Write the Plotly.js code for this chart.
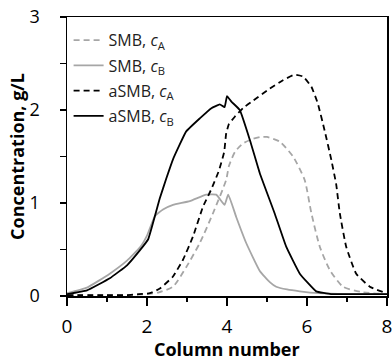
<!DOCTYPE html>
<html>
<head>
<meta charset="utf-8">
<script src="https://cdn.plot.ly/plotly-3.0.1.min.js"></script>
<style>html,body{margin:0;padding:0;background:#fff;}#chart{width:392px;height:361px;}</style>
</head>
<body>
<div id="chart"></div>
<script>
// SMB, cA (gray dashed)
const smbA_x = [0, 1, 1.5, 2, 2.3, 2.65, 2.98, 3.32, 3.65, 3.98, 4.05, 4.2, 4.4, 4.65, 4.85, 5.0, 5.32, 5.65, 5.94, 6.11, 6.32, 6.57, 6.9, 7.4, 8];
const smbA_y = [0.01, 0.01, 0.01, 0.02, 0.04, 0.10, 0.31, 0.57, 0.89, 1.25, 1.40, 1.55, 1.64, 1.69, 1.71, 1.71, 1.66, 1.50, 1.25, 0.89, 0.53, 0.28, 0.10, 0.04, 0.02];
// SMB, cB (gray solid)
const smbB_x = [0, 0.5, 1.07, 1.5, 1.82, 2.0, 2.2, 2.4, 2.65, 3.07, 3.48, 3.73, 3.94, 4.03, 4.23, 4.48, 4.82, 5.07, 5.23, 5.5, 5.82, 6.3, 7, 8];
const smbB_y = [0.03, 0.09, 0.24, 0.38, 0.52, 0.65, 0.86, 0.93, 0.98, 1.02, 1.09, 1.09, 0.98, 1.09, 0.85, 0.57, 0.27, 0.15, 0.10, 0.07, 0.05, 0.03, 0.02, 0.02];
// aSMB, cA (black dashed)
const asmbA_x = [0, 1, 1.5, 1.8, 2.07, 2.32, 2.65, 2.9, 3.15, 3.4, 3.61, 3.8, 3.93, 3.98, 4.05, 4.2, 4.4, 4.65, 5.07, 5.4, 5.69, 5.9, 6.11, 6.27, 6.44, 6.61, 6.73, 6.82, 6.98, 7.23, 7.57, 7.98];
const asmbA_y = [0.01, 0.01, 0.01, 0.02, 0.03, 0.08, 0.21, 0.39, 0.64, 0.96, 1.15, 1.35, 1.55, 1.75, 1.85, 1.93, 2.02, 2.10, 2.23, 2.32, 2.38, 2.36, 2.25, 2.07, 1.78, 1.46, 1.20, 0.89, 0.53, 0.24, 0.10, 0.03];
// aSMB, cB (black solid)
const asmbB_x = [0, 0.5, 1.07, 1.5, 1.82, 2.03, 2.32, 2.48, 2.65, 2.98, 3.32, 3.61, 3.82, 3.94, 4.0, 4.11, 4.32, 4.57, 4.82, 5.19, 5.48, 5.82, 6.23, 6.6, 7, 8];
const asmbB_y = [0.02, 0.06, 0.19, 0.33, 0.49, 0.61, 1.05, 1.26, 1.47, 1.77, 1.91, 2.02, 2.06, 2.03, 2.15, 2.09, 2.00, 1.68, 1.32, 0.89, 0.53, 0.24, 0.05, 0.02, 0.02, 0.02];

const seriesNames = ['SMB, <i>c</i><sub>A</sub>', 'SMB, <i>c</i><sub>B</sub>', 'aSMB, <i>c</i><sub>A</sub>', 'aSMB, <i>c</i><sub>B</sub>'];
const xTickVals = [0, 2, 4, 6, 8];
const xTickText = ['0', '2', '4', '6', '8'];
const yTickVals = [0, 1, 2, 3];
const yTickText = ['0', '1', '2', '3'];
const xTitle = '<b>Column number</b>';
const yTitle = '<b>Concentration, g/L</b>';

const gray = '#a6a6a6';
const traces = [
  {x: smbA_x, y: smbA_y, name: seriesNames[0], legendgroup: 'g1', mode: 'lines', line: {color: gray, width: 1.8, dash: '6px,4px', shape: 'spline', smoothing: 0.6}},
  {x: smbB_x, y: smbB_y, name: seriesNames[1], legendgroup: 'g2', mode: 'lines', line: {color: gray, width: 1.8, shape: 'spline', smoothing: 0.4}},
  {x: asmbA_x, y: asmbA_y, name: seriesNames[2], legendgroup: 'g3', mode: 'lines', line: {color: '#000', width: 1.8, dash: '6px,4px', shape: 'spline', smoothing: 0.4}},
  {x: asmbB_x, y: asmbB_y, name: seriesNames[3], legendgroup: 'g4', mode: 'lines', line: {color: '#000', width: 1.8, shape: 'spline', smoothing: 0.3}}
];

const layout = {
  width: 392, height: 361,
  margin: {l: 67, r: 5, t: 17, b: 65},
  paper_bgcolor: '#fff', plot_bgcolor: '#fff',
  font: {family: 'Open Sans, sans-serif', color: '#000'},
  showlegend: true,
  legend: {x: 0.005, y: 0.978, xanchor: 'left', yanchor: 'top', bgcolor: 'rgba(0,0,0,0)', font: {size: 16, color: '#222'}, itemwidth: 30, tracegroupgap: 1.5},
  xaxis: {
    range: [0, 8], tickvals: xTickVals, ticktext: xTickText,
    ticks: 'outside', ticklen: 8, tickwidth: 1.3, tickcolor: '#000',
    minor: {dtick: 1, ticks: 'outside', ticklen: 4, tickwidth: 1.3, tickcolor: '#000', showgrid: false},
    showline: true, linecolor: '#000', linewidth: 1.5, mirror: true,
    showgrid: false, zeroline: false, ticklabeloverflow: 'allow',
    tickfont: {size: 19, color: '#000'}, ticklabelstandoff: 5
  },
  yaxis: {
    range: [0, 3], tickvals: yTickVals, ticktext: yTickText,
    ticks: 'outside', ticklen: 6, tickwidth: 1.3, tickcolor: '#000',
    minor: {dtick: 0.5, ticks: 'outside', ticklen: 6, tickwidth: 1.3, tickcolor: '#000', showgrid: false},
    showline: true, linecolor: '#000', linewidth: 1.5, mirror: true,
    showgrid: false, zeroline: false, ticklabeloverflow: 'allow',
    tickfont: {size: 18, color: '#000'}, ticklabelstandoff: 16,
    title: {text: yTitle, font: {size: 18, color: '#000'}, standoff: 0}
  },
  annotations: [
    {text: xTitle, xref: 'paper', yref: 'paper', x: 0.5, y: -0.19, xanchor: 'center', yanchor: 'middle', showarrow: false, font: {size: 18, color: '#000'}}
  ]
};

Plotly.newPlot('chart', traces, layout, {displayModeBar: false, staticPlot: true});
</script>
</body>
</html>
